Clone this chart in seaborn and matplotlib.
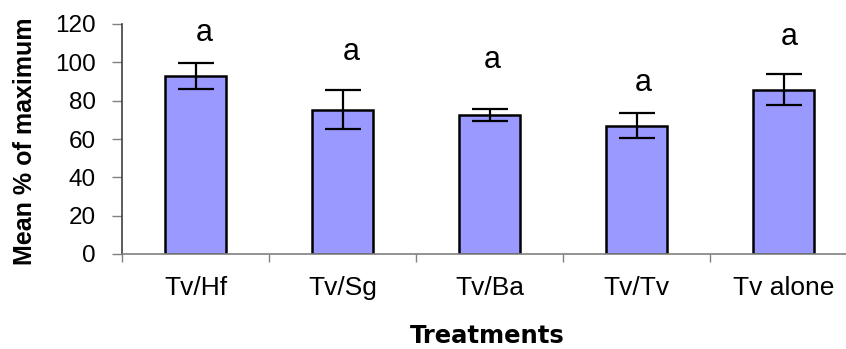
import matplotlib
matplotlib.use("Agg")
import matplotlib.pyplot as plt
import seaborn as sns
import pandas as pd
from matplotlib.ticker import FixedLocator

# Treatment means (% of maximum) with their error half-widths
treatments = ["Tv/Hf", "Tv/Sg", "Tv/Ba", "Tv/Tv", "Tv alone"]
means = [92.8, 75.3, 72.6, 67.0, 85.8]
errors = [6.8, 10.2, 3.0, 6.5, 8.0]
letters = ["a", "a", "a", "a", "a"]
y_ticks = [0, 20, 40, 60, 80, 100, 120]

# placement of the significance letters (baseline height, horizontal nudge in points)
letter_base = [111.0, 101.2, 96.9, 85.2, 109.0]
letter_dx = [6, 6, 2, 5, 4]

df = pd.DataFrame({"Treatment": treatments, "Mean": means, "Err": errors})

sns.set_style("white")
plt.rcParams["font.family"] = ["Liberation Sans", "DejaVu Sans"]
plt.rcParams["text.color"] = "black"
plt.rcParams["axes.labelcolor"] = "black"

fig = plt.figure(figsize=(8.46, 3.49), dpi=100)
ax = fig.add_axes([122 / 846, 95 / 349, 1 - 122 / 846, 230 / 349])

sns.barplot(data=df, x="Treatment", y="Mean", color="#9999FF", saturation=1,
            edgecolor="black", linewidth=1.8, width=0.415, errorbar=None, ax=ax,
            zorder=2)

ax.errorbar(range(len(treatments)), df["Mean"], yerr=df["Err"], fmt="none",
            ecolor="black", elinewidth=1.6, capsize=13, capthick=1.6, zorder=3)

for i, (lab, yb, dx) in enumerate(zip(letters, letter_base, letter_dx)):
    ax.annotate(lab, (i, yb), xytext=(dx, 0), textcoords="offset points",
                ha="center", va="baseline", fontsize=22, color="black",
                annotation_clip=False)

ax.set_ylim(0, 120)
ax.set_xlim(-0.5, 4.425)
ax.set_yticks(y_ticks)
ax.set_yticklabels([str(t) for t in y_ticks])

# category separators as minor ticks, labels on major ticks without marks
ax.xaxis.set_minor_locator(FixedLocator([-0.5, 0.5, 1.5, 2.5, 3.5, 4.5]))
ax.tick_params(axis="x", which="major", length=0, pad=16, labelsize=19,
               labelcolor="black")
ax.tick_params(axis="x", which="minor", length=6, width=1, color="#808080",
               direction="out", bottom=True)
ax.tick_params(axis="y", which="major", length=7, width=1, color="#808080",
               direction="out", left=True, pad=12, labelsize=17.5,
               labelcolor="black")

for side in ["top", "right"]:
    ax.spines[side].set_visible(False)
ax.spines["left"].set_color("#404040")
ax.spines["left"].set_linewidth(1.2)
ax.spines["bottom"].set_color("#808080")
ax.spines["bottom"].set_linewidth(1.2)

ax.set_xlabel("")
ax.set_ylabel("Mean % of maximum", fontsize=18, fontweight="bold", color="black")
ax.yaxis.set_label_coords(-0.117, 0.49)

fig.text(487 / 846, 1 / 349, "Treatments", ha="center", va="bottom",
         fontsize=17.5, fontweight="bold", family="DejaVu Sans", color="black")

fig.savefig("out.png", dpi=100)
